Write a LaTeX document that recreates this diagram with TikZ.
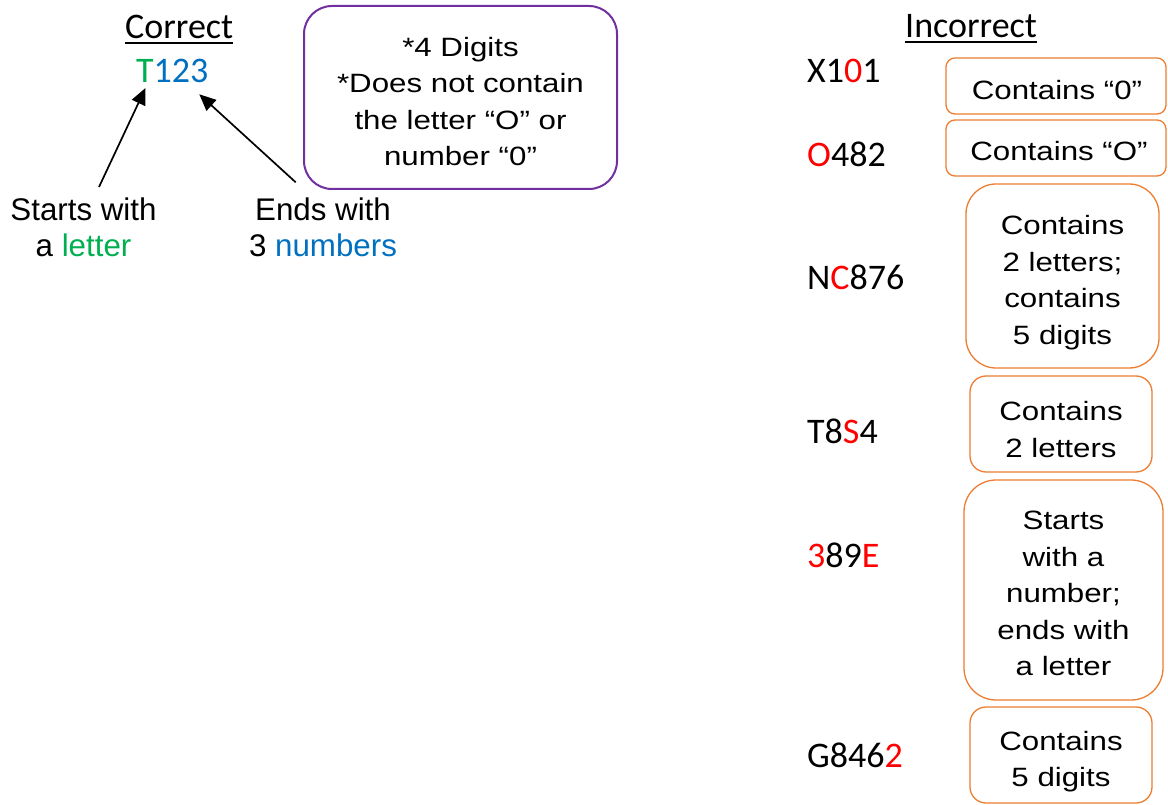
\documentclass[tikz,border=0pt]{standalone}
\usepackage{fontspec}
\setmainfont{Liberation Sans}
\newfontfamily\codefont{Carlito}
\newfontfamily\boxfont[FakeStretch=1.18]{Liberation Sans}
\usetikzlibrary{arrows.meta}
\definecolor{okgreen}{HTML}{00B050}
\definecolor{okblue}{HTML}{0070C0}
\definecolor{badred}{HTML}{FF0000}
\definecolor{rulepurple}{HTML}{7030A0}
\definecolor{ruleorange}{HTML}{ED7D31}
\begin{document}
\begin{tikzpicture}[x=1pt,y=-1pt,
  heading/.style={inner sep=0pt, anchor=base west, font=\codefont\fontsize{36}{40}\selectfont},
  code/.style={inner sep=0pt, anchor=base west, font=\codefont\fontsize{36}{40}\selectfont},
  note/.style={inner sep=0pt, anchor=base, align=center, font=\fontsize{31.3}{36.5}\selectfont},
  reason/.style={inner sep=0pt, anchor=base, align=center, font=\boxfont\fontsize{26.5}{36.5}\selectfont},
  reasonbox/.style={draw=ruleorange, line width=1.3pt, rounded corners=#1, inner sep=0pt},
  pointer/.style={line width=1.7pt, -{Triangle[length=16.5pt,width=14.5pt]}},
  underbar/.style={line width=2pt}
]
\clip (0,0) rectangle (1168,805);

% ---- left half: a valid code ----
\node[heading] (cor) at (125,39) {Correct};
\draw[underbar] ([yshift=-4pt]cor.base west) -- ([yshift=-4pt]cor.base east);
\node[code] (good) at (136,83) {{\color{okgreen}T}{\color{okblue}123}};

% multi-line texts are placed by the baseline of their last line
\node[note] (start) at (83.5,257) {Starts with\\a {\color{okgreen}letter}};
\node[note] (end) at (323,257) {Ends with\\3 {\color{okblue}numbers}};

\coordinate (p1s) at (99,187);
\coordinate (p1e) at (145.5,88);
\coordinate (p2s) at (295.7,182.3);
\coordinate (p2e) at (199.3,94.3);
\draw[pointer] (p1s) -- (p1e);
\draw[pointer] (p2s) -- (p2e);

\node[draw=rulepurple, line width=2pt, rounded corners=28pt, inner sep=0pt,
      minimum width=313pt, minimum height=183pt] (rules) at (460.5,97.5) {};
\node[reason] (rulestext) at (460.5,166)
  {*4 Digits\\*Does not contain\\the letter “O” or\\number “0”};

% ---- right half: invalid codes and why ----
\node[heading] (inc) at (905,38) {Incorrect};
\draw[underbar] ([yshift=-4pt]inc.base west) -- ([yshift=-4pt]inc.base east);

\node[code] (c1) at (807,83) {X1{\color{badred}0}1};
\node[code] (c2) at (807,166.7) {{\color{badred}O}482};
\node[code] (c3) at (807,290) {N{\color{badred}C}876};
\node[code] (c4) at (807,443) {T8{\color{badred}S}4};
\node[code] (c5) at (807,567) {{\color{badred}3}89{\color{badred}E}};
\node[code] (c6) at (807,767) {G846{\color{badred}2}};

\node[reasonbox=9pt, minimum width=220pt, minimum height=56pt] (b1) at (1056,86) {};
\node[reasonbox=9pt, minimum width=220pt, minimum height=56pt] (b2) at (1056,148) {};
\node[reasonbox=30pt, minimum width=193pt, minimum height=184pt] (b3) at (1062.5,276) {};
\node[reasonbox=16pt, minimum width=182pt, minimum height=96pt] (b4) at (1061,424) {};
\node[reasonbox=32pt, minimum width=199pt, minimum height=220pt] (b5) at (1063.5,590) {};
\node[reasonbox=16pt, minimum width=182pt, minimum height=96pt] (b6) at (1061,755) {};

\node[reason] (r1) at (1057,100) {Contains “0”};
\node[reason] (r2) at (1059,161) {Contains “O”};
\node[reason] (r3) at (b3 |- 0,344.3) {Contains\\2 letters;\\contains\\5 digits};
\node[reason] (r4) at (b4 |- 0,457) {Contains\\2 letters};
\node[reason] (r5) at (b5 |- 0,675.7) {Starts\\with a\\number;\\ends with\\a letter};
\node[reason] (r6) at (b6 |- 0,786.7) {Contains\\5 digits};
\end{tikzpicture}
\end{document}
